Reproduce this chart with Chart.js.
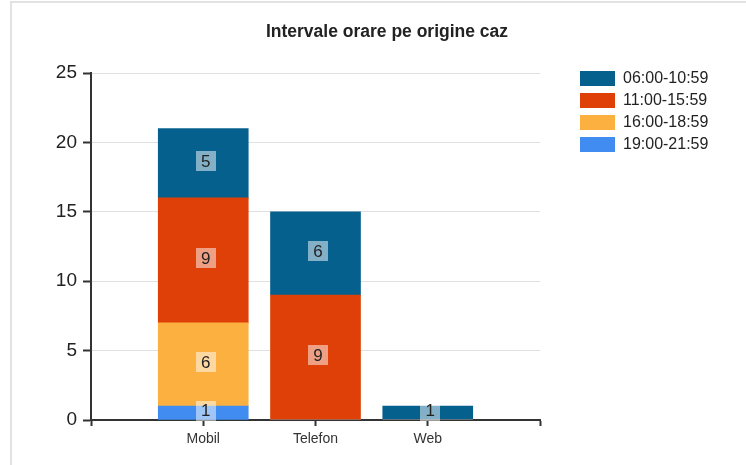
<!DOCTYPE html>
<html>
<head>
<meta charset="utf-8">
<script src="https://cdn.jsdelivr.net/npm/chart.js@4.4.0/dist/chart.umd.min.js"></script>
<style>
  html, body { margin: 0; padding: 0; background: #fff; overflow: hidden; }
  #frame { position: absolute; left: 10px; top: 1px; width: 800px; height: 500px; border: 2px solid #e2e2e2; }
  #wrap { position: absolute; left: 0; top: 0; width: 746px; height: 465px; }
  #legend { position: absolute; left: 580px; top: 67px; font: 16px "Liberation Sans", Arial, sans-serif; color: #222; }
  .legend-item { display: flex; align-items: center; height: 22px; }
  .legend-box { width: 35px; height: 15px; margin-right: 8px; box-sizing: border-box; }
</style>
</head>
<body>
<div id="frame"></div>
<div id="wrap"><canvas id="chart" width="746" height="465"></canvas></div>
<div id="legend"></div>
<script>
// Categorii si serii (de jos in sus in stiva)
const categories = ['Mobil', 'Telefon', 'Web'];
const intervals = ['19:00-21:59', '16:00-18:59', '11:00-15:59', '06:00-10:59'];
const colors = ['#418cf0', '#fbb040', '#df4008', '#06608e'];

const v1900 = [1, 0, 0];
const v1600 = [6, 0, 0];
const v1100 = [9, 9, 0];
const v0600 = [5, 6, 1];

const yMax = 25;
const yStep = 5;

const FONT = '"Liberation Sans", Arial, sans-serif';

// axa x are un slot gol la fiecare capat
const labels = [''].concat(categories, ['']);
const pad = arr => [null].concat(arr, [null]);

const seriesValues = [v1900, v1600, v1100, v0600];
const datasets = seriesValues.map((vals, i) => ({
    label: intervals[i],
    data: pad(vals),
    backgroundColor: colors[i],
    borderWidth: 0,
    barThickness: 90
}));

// Etichete cu valori in mijlocul fiecarui segment
const valueLabels = {
    id: 'valueLabels',
    afterDatasetsDraw(chart) {
        const ctx = chart.ctx;
        ctx.save();
        ctx.font = '17px ' + FONT;
        ctx.textAlign = 'center';
        ctx.textBaseline = 'middle';
        chart.data.datasets.forEach((ds, di) => {
            const meta = chart.getDatasetMeta(di);
            meta.data.forEach((bar, j) => {
                const v = ds.data[j];
                if (!v) return;
                const cx = bar.x + 2.5;
                const cy = (bar.y + bar.base) / 2 - 2;
                ctx.fillStyle = 'rgba(255,255,255,0.5)';
                ctx.fillRect(Math.round(cx - 10), Math.round(cy - 10), 20, 20);
                ctx.fillStyle = '#222';
                ctx.fillText(String(v), cx, cy + 1);
            });
        });
        ctx.restore();
    }
};

const chart = new Chart(document.getElementById('chart'), {
    type: 'bar',
    data: { labels: labels, datasets: datasets },
    options: {
        responsive: false,
        animation: false,
        layout: { padding: { left: 28, right: 0, top: 0, bottom: 0 } },
        plugins: {
            legend: { display: false },
            tooltip: { enabled: false },
            title: {
                display: true,
                text: 'Intervale orare pe origine caz',
                color: '#222',
                font: { family: FONT, size: 17.5, weight: 'bold' },
                padding: { top: 22, bottom: 30 }
            }
        },
        scales: {
            x: {
                stacked: true,
                offset: false,
                grid: { offset: false, drawOnChartArea: false, tickLength: 6, tickColor: '#333', tickWidth: 2 },
                border: { color: '#333', width: 2 },
                ticks: { color: '#333', font: { family: FONT, size: 14 }, padding: 5, maxRotation: 0, autoSkip: false },
                afterFit(scale) { scale.height = 45; }
            },
            y: {
                stacked: true,
                min: 0,
                max: yMax,
                ticks: { stepSize: yStep, color: '#222', font: { family: FONT, size: 19 }, padding: 6 },
                grid: { color: '#e0e0e0', lineWidth: 1, tickLength: 8, tickColor: '#333', tickWidth: 2 },
                border: { color: '#333', width: 2 },
                afterFit(scale) { scale.width = 63; }
            },
            // spatiu gol la dreapta pentru legenda
            side: {
                position: 'right',
                display: true,
                grid: { display: false },
                border: { display: false },
                ticks: { display: false },
                afterFit(scale) { scale.width = 206; }
            }
        }
    },
    plugins: [valueLabels]
});

// Legenda HTML
function renderLegend() {
    const legend = document.getElementById('legend');
    legend.innerHTML = '';
    chart.data.datasets.slice().reverse().forEach(ds => {
        const item = document.createElement('div');
        item.className = 'legend-item';
        item.innerHTML = `
            <div class="legend-box" style="background: ${ds.backgroundColor}"></div>
            <span>${ds.label}</span>
        `;
        legend.appendChild(item);
    });
}

renderLegend();
</script>
</body>
</html>
